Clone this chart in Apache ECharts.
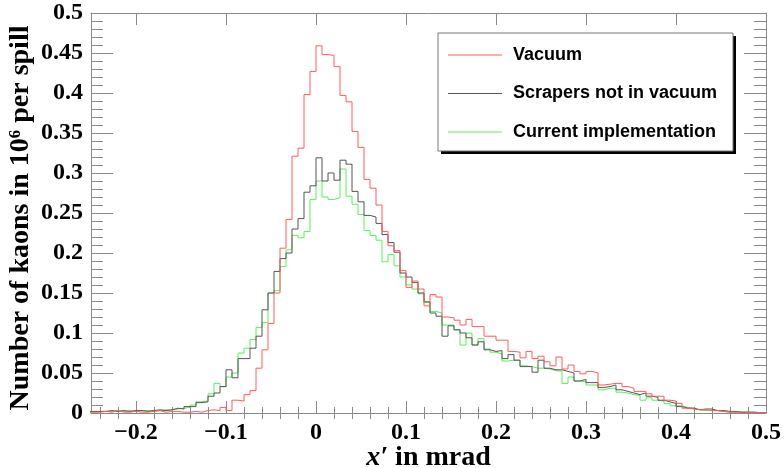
<!DOCTYPE html>
<html>
<head>
<meta charset="utf-8">
<script src="https://cdn.jsdelivr.net/npm/echarts@6/dist/echarts.min.js"></script>
<style>html,body{margin:0;padding:0;background:#fff}#c{width:784px;height:468px}</style>
</head>
<body>
<div id="c"></div>
<script>
// Histogram binning: bins of width 1/150 mrad, first (partially visible) bin index -38
const binWidth = 1 / 150;
const firstBinIndex = -38;

const seriesNames = ['Vacuum', 'Scrapers not in vacuum', 'Current implementation'];

const vacuum = [
  0.001,0.001,0.002,0.001,0.003,0.001,0.001,0.002,0.001,0.001,0.002,0.003,0.001,0.002,0.002,0.001,0.001,0.002,0.001,0.003,
  0.004,0.003,0.007,0.003,0.016,0.015,0.023,0.028,0.056,0.079,0.112,0.150,0.206,0.242,0.321,0.331,0.398,0.427,
  0.459,0.448,0.447,0.433,0.397,0.389,0.352,0.332,0.292,0.281,0.260,0.227,0.209,0.203,0.178,0.157,0.165,0.155,0.134,0.148,0.145,
  0.120,0.119,0.116,0.110,0.117,0.108,0.108,0.096,0.096,0.091,0.091,0.077,0.076,0.069,0.077,0.068,0.071,0.064,0.059,0.070,
  0.055,0.060,0.052,0.049,0.052,0.050,0.035,0.036,0.037,0.037,0.033,0.031,0.027,0.027,0.024,0.021,0.021,0.016,0.015,0.012,
  0.006,0.005,0.004,0.004,0.003,0.003,0.002,0.001,0.001,0.001,0.001,0.0005,0.0005,0.0005
];

const scrapers = [
  0.002,0.002,0.002,0.003,0.002,0.003,0.002,0.003,0.003,0.002,0.003,0.004,0.003,0.004,0.006,0.005,0.008,0.008,0.013,0.014,
  0.021,0.025,0.033,0.054,0.044,0.068,0.068,0.081,0.096,0.129,0.150,0.177,0.193,0.200,0.230,0.243,0.276,0.284,
  0.319,0.290,0.300,0.291,0.316,0.311,0.277,0.264,0.247,0.245,0.237,0.223,0.213,0.201,0.175,0.170,0.163,0.150,0.139,0.125,0.121,
  0.096,0.109,0.104,0.100,0.094,0.085,0.089,0.079,0.077,0.078,0.068,0.073,0.066,0.058,0.058,0.051,0.066,0.056,0.054,0.054,
  0.052,0.050,0.040,0.042,0.038,0.038,0.032,0.033,0.035,0.029,0.027,0.025,0.023,0.025,0.021,0.0195,0.016,0.014,0.012,0.008,
  0.006,0.006,0.004,0.005,0.005,0.003,0.003,0.002,0.002,0.001,0.001,0.001,0.0005,0.0005
];

const current = [
  0.001,0.002,0.002,0.002,0.003,0.002,0.003,0.002,0.003,0.003,0.003,0.003,0.004,0.004,0.005,0.006,0.007,0.010,0.014,0.015,
  0.024,0.037,0.033,0.045,0.050,0.075,0.081,0.092,0.107,0.113,0.150,0.153,0.183,0.204,0.222,0.219,0.227,0.267,
  0.290,0.270,0.267,0.269,0.305,0.271,0.261,0.248,0.228,0.222,0.216,0.189,0.198,0.184,0.170,0.160,0.155,0.149,0.138,0.127,0.125,
  0.110,0.110,0.104,0.085,0.100,0.085,0.093,0.080,0.076,0.074,0.065,0.066,0.066,0.059,0.058,0.056,0.056,0.055,0.053,0.052,
  0.037,0.045,0.040,0.039,0.035,0.035,0.029,0.031,0.031,0.026,0.025,0.023,0.022,0.016,0.019,0.016,0.015,0.012,0.009,0.009,
  0.007,0.006,0.004,0.003,0.003,0.003,0.002,0.001,0.001,0.001,0.001,0.001,0.0005,0.0005
];

const xMajorTicks = [-0.2, -0.1, 0, 0.1, 0.2, 0.3, 0.4, 0.5];
const xMinorTicks = [];
for (let i = -12; i <= 25; i++) { if (i % 5 !== 0) xMinorTicks.push(+(i * 0.02).toFixed(2)); }

function histPoints(vals) {
  const pts = [];
  for (let i = 0; i < vals.length; i++) {
    pts.push([(firstBinIndex + i) * binWidth, vals[i]]);
  }
  pts.push([(firstBinIndex + vals.length) * binWidth, vals[vals.length - 1]]);
  return pts;
}

const colors = ['#ff5a5a', '#555555', '#5aee5a'];
const axisGray = '#8a8a8a';
const serif = 'Liberation Serif';

const chart = echarts.init(document.getElementById('c'), null, { renderer: 'canvas' });

const baseX = { type: 'value', min: -0.25, max: 0.5, gridIndex: 0, splitLine: { show: false } };
const baseY = { type: 'value', min: 0, max: 0.5, interval: 0.05, gridIndex: 0, splitLine: { show: false } };

chart.setOption({
  animation: false,
  backgroundColor: '#fff',
  grid: { left: 91, right: 18, top: 13, bottom: 55, containLabel: false, outerBoundsMode: 'none' },
  xAxis: [
    Object.assign({}, baseX, {
      position: 'bottom',
      axisLine: { show: true, onZero: false, lineStyle: { color: axisGray, width: 1 } },
      axisTick: { show: true, inside: true, length: 12, customValues: xMajorTicks, lineStyle: { color: axisGray } },
      axisLabel: { show: true, customValues: xMajorTicks, margin: 8, color: '#000',
        fontFamily: serif, fontWeight: 'bold', fontSize: 24,
        formatter: v => (v < 0 ? '\u2212' + Math.abs(v) : String(v)) },
      name: '{i|x\u2032} in mrad', nameLocation: 'middle', nameGap: 31, nameMoveOverlap: false,
      nameTextStyle: { fontFamily: serif, fontWeight: 'bold', fontSize: 28, color: '#000',
        rich: { i: { fontFamily: serif, fontWeight: 'bold', fontStyle: 'italic', fontSize: 28, color: '#000' } } }
    }),
    Object.assign({}, baseX, {
      position: 'bottom', axisLine: { show: false },
      axisTick: { show: true, inside: true, length: 6, customValues: xMinorTicks, lineStyle: { color: axisGray } },
      axisLabel: { show: false }
    }),
    Object.assign({}, baseX, {
      position: 'top',
      axisLine: { show: true, onZero: false, lineStyle: { color: axisGray, width: 1 } },
      axisTick: { show: true, inside: true, length: 12, customValues: xMajorTicks, lineStyle: { color: axisGray } },
      axisLabel: { show: false }
    }),
    Object.assign({}, baseX, {
      position: 'top', axisLine: { show: false },
      axisTick: { show: true, inside: true, length: 6, customValues: xMinorTicks, lineStyle: { color: axisGray } },
      axisLabel: { show: false }
    })
  ],
  yAxis: [
    Object.assign({}, baseY, {
      position: 'left',
      axisLine: { show: true, onZero: false, lineStyle: { color: axisGray, width: 1 } },
      axisTick: { show: true, inside: true, length: 22, lineStyle: { color: axisGray } },
      minorTick: { show: true, splitNumber: 5, length: 12, lineStyle: { color: axisGray } },
      axisLabel: { show: true, margin: 8, color: '#000', fontFamily: serif, fontWeight: 'bold', fontSize: 24 },
      name: 'Number of kaons in 10\u2076 per spill', nameLocation: 'middle', nameGap: 56, nameRotate: 90,
      nameMoveOverlap: false,
      nameTextStyle: { fontFamily: serif, fontWeight: 'bold', fontSize: 28, color: '#000', padding: [0, 10, 0, 0] }
    }),
    Object.assign({}, baseY, {
      position: 'right',
      axisLine: { show: true, onZero: false, lineStyle: { color: axisGray, width: 1 } },
      axisTick: { show: true, inside: true, length: 22, lineStyle: { color: axisGray } },
      minorTick: { show: true, splitNumber: 5, length: 12, lineStyle: { color: axisGray } },
      axisLabel: { show: false }
    })
  ],
  legend: {
    orient: 'vertical', left: 443, top: 41, z: 300,
    icon: 'rect', itemWidth: 54, itemHeight: 1, itemGap: 20.5,
    data: seriesNames,
    textStyle: { fontFamily: 'Liberation Sans', fontWeight: 'bold', fontSize: 18, color: '#000',
      lineHeight: 18, padding: [0, 0, 0, 6] }
  },
  graphic: [
    { type: 'rect', z: 100, shape: { x: 441, y: 36, width: 295, height: 118 }, style: { fill: '#000' } },
    { type: 'rect', z: 101, shape: { x: 438, y: 33, width: 295, height: 118 }, style: { fill: '#fff', stroke: '#777', lineWidth: 1 } }
  ],
  series: [
    { name: seriesNames[0], data: histPoints(vacuum) },
    { name: seriesNames[1], data: histPoints(scrapers) },
    { name: seriesNames[2], data: histPoints(current) }
  ].map((s, i) => Object.assign({
    type: 'line', step: 'end', symbol: 'none', showSymbol: false, xAxisIndex: 0, yAxisIndex: 0,
    color: colors[i], lineStyle: { color: colors[i], width: 1 }, clip: true, z: 2 + (2 - i)
  }, s))
});
</script>
</body>
</html>
